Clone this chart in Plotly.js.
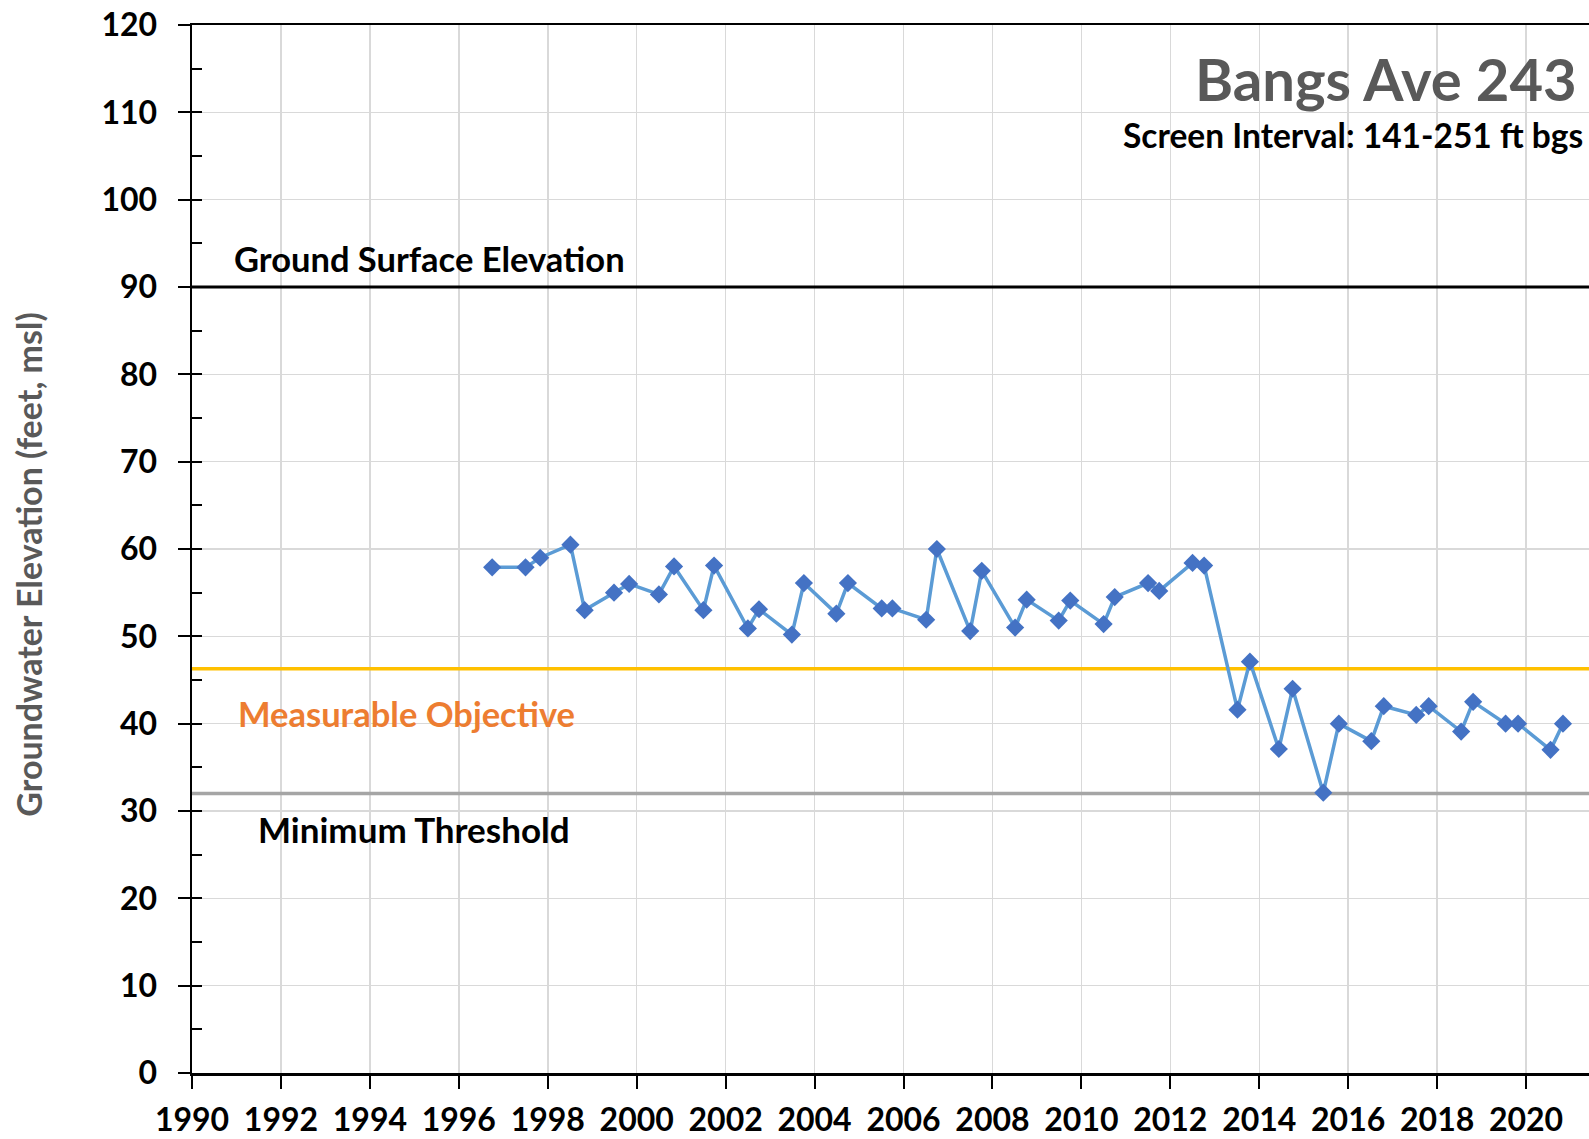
<!DOCTYPE html>
<html><head><meta charset="utf-8">
<script src="https://cdn.plot.ly/plotly-3.0.1.min.js"></script>
<style>html,body{margin:0;padding:0;overflow:hidden;background:#fff}#chart{width:1660px;height:1139px}</style>
</head><body><div id="chart"></div>
<script>
// Measurement dates (decimal years) and groundwater elevations (feet, msl)
const years = [1996.75, 1997.50, 1997.83, 1998.51, 1998.83, 1999.49, 1999.83, 2000.50, 2000.84, 2001.50,
  2001.74, 2002.50, 2002.75, 2003.49, 2003.76, 2004.49, 2004.75, 2005.51, 2005.75, 2006.51,
  2006.75, 2007.50, 2007.76, 2008.51, 2008.77, 2009.49, 2009.75, 2010.50, 2010.75, 2011.50,
  2011.75, 2012.50, 2012.76, 2013.51, 2013.79, 2014.44, 2014.75, 2015.44, 2015.79, 2016.52,
  2016.80, 2017.53, 2017.81, 2018.54, 2018.81, 2019.54, 2019.82, 2020.55, 2020.83];
const elevation = [57.9, 57.9, 59.0, 60.5, 53.0, 55.0, 56.0, 54.8, 58.0, 53.0,
  58.1, 50.9, 53.1, 50.2, 56.1, 52.6, 56.1, 53.2, 53.2, 51.9,
  60.0, 50.6, 57.5, 51.0, 54.2, 51.8, 54.1, 51.4, 54.5, 56.1,
  55.2, 58.4, 58.1, 41.6, 47.1, 37.1, 44.0, 32.1, 40.0, 38.0,
  42.0, 41.0, 42.0, 39.1, 42.5, 40.0, 40.0, 37.0, 40.0];

const groundSurfaceElevation = 90;
const measurableObjective = 46.3;
const minimumThreshold = 32;
const xRange = [1990, 2022];
const yRange = [0, 120];
const xTickYears = [1990,1992,1994,1996,1998,2000,2002,2004,2006,2008,2010,2012,2014,2016,2018,2020];
const yTicks = [0,10,20,30,40,50,60,70,80,90,100,110,120];

const F = 'Lato, "Open Sans", sans-serif';

const refLine = (yv, color, w) => ({
  x: xRange, y: [yv, yv], mode: 'lines', type: 'scatter',
  line: {color: color, width: w}, hoverinfo: 'skip', showlegend: false
});

const traces = [
  refLine(minimumThreshold, '#A5A5A5', 3.5),
  refLine(measurableObjective, '#FFC000', 3.5),
  refLine(groundSurfaceElevation, '#000000', 3),
  {
    x: years, y: elevation, type: 'scatter', mode: 'lines+markers',
    line: {color: '#5B9BD5', width: 3.5},
    marker: {symbol: 'diamond', size: 14, color: '#4472C4'},
    showlegend: false
  },
  // inside tick marks on the y axis
  {x: [xRange[0]], y: [yRange[0]], yaxis: 'y2', mode: 'markers', marker: {opacity: 0}, hoverinfo: 'skip', showlegend: false}
];

const layout = {
  width: 1660, height: 1139,
  margin: {l: 191.5, r: 44.5, t: 25, b: 66},
  paper_bgcolor: '#ffffff', plot_bgcolor: '#ffffff',
  showlegend: false,
  font: {family: F, color: '#000000'},
  xaxis: {
    range: xRange, tickmode: 'array', tickvals: xTickYears, ticktext: xTickYears.map(String),
    showgrid: true, gridcolor: '#D9D9D9', gridwidth: 1.5,
    zeroline: false, showline: true, linecolor: '#000000', linewidth: 2.5, mirror: true,
    ticks: 'outside', ticklen: 13, tickwidth: 2, tickcolor: '#000000',
    tickfont: {family: F, size: 32, weight: 'bold', color: '#000000'},
    ticklabelstandoff: 4
  },
  yaxis: {
    range: yRange, tickmode: 'array', tickvals: yTicks, ticktext: yTicks.map(String),
    showgrid: true, gridcolor: '#D9D9D9', gridwidth: 1.5,
    zeroline: false, showline: true, linecolor: '#000000', linewidth: 2.5,
    ticks: 'outside', ticklen: 12, tickwidth: 2, tickcolor: '#000000',
    tickfont: {family: F, size: 32, weight: 'bold', color: '#000000'},
    ticklabelstandoff: 14
  },
  yaxis2: {
    range: yRange, overlaying: 'y', side: 'left', dtick: 5, tick0: 0,
    showgrid: false, zeroline: false, showline: false, showticklabels: false,
    ticks: 'inside', ticklen: 10, tickwidth: 2, tickcolor: '#000000'
  },
  annotations: [
    {text: 'Groundwater Elevation (feet, msl)', textangle: -90, xref: 'paper', x: 0, xshift: -163,
     yref: 'y', y: 58.2, xanchor: 'center', yanchor: 'middle', showarrow: false,
     font: {family: F, size: 34, weight: 'bold', color: '#595959'}},
    {text: 'Bangs Ave 243', xref: 'x', x: 2021.18, yref: 'y', y: 113.9, xanchor: 'right', yanchor: 'middle',
     showarrow: false, font: {family: F, size: 58, weight: 'bold', color: '#595959'}},
    {text: 'Screen Interval: 141-251 ft bgs', xref: 'x', x: 2010.9, yref: 'y', y: 107.4, xanchor: 'left', yanchor: 'middle',
     showarrow: false, font: {family: F, size: 33.5, weight: 'bold', color: '#000000'}},
    {text: 'Ground Surface Elevation', xref: 'x', x: 1990.9, yref: 'y', y: 93.3, xanchor: 'left', yanchor: 'middle',
     showarrow: false, font: {family: F, size: 34.5, weight: 'bold', color: '#000000'}},
    {text: 'Measurable Objective', xref: 'x', x: 1991.0, yref: 'y', y: 41.2, xanchor: 'left', yanchor: 'middle',
     showarrow: false, font: {family: F, size: 34.5, weight: 'bold', color: '#ED7D31'}},
    {text: 'Minimum Threshold', xref: 'x', x: 1991.45, yref: 'y', y: 27.9, xanchor: 'left', yanchor: 'middle',
     showarrow: false, font: {family: F, size: 35, weight: 'bold', color: '#000000'}}
  ]
};

Plotly.newPlot('chart', traces, layout, {displayModeBar: false, staticPlot: true});
</script>
</body></html>
